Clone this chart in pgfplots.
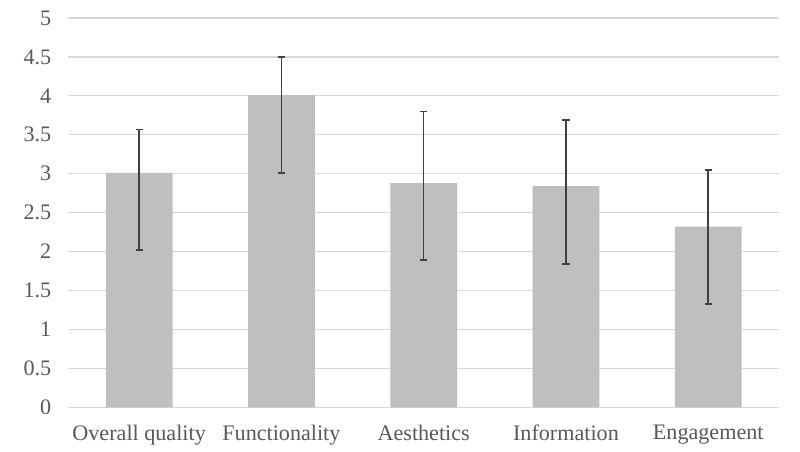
\documentclass[border=0pt]{standalone}
\usepackage{pgfplots}
\pgfplotsset{compat=1.18}
\usepackage{fontspec}
\setmainfont{Liberation Serif}
\definecolor{bargray}{HTML}{BFBFBF}
\definecolor{gridgray}{HTML}{D9D9D9}
\definecolor{txtgray}{HTML}{595959}
\definecolor{errgray}{HTML}{404040}
\begin{document}
\begin{tikzpicture}
\begin{axis}[
  scale only axis,
  width=533.5pt, height=292pt,
  xmin=-0.5, xmax=4.5,
  ymin=0, ymax=5,
  ytick={0,0.5,...,5},
  xtick={0,1,2,3,4},
  xticklabels={Overall quality,Functionality,Aesthetics,Information,Engagement},
  axis line style={draw=none},
  axis x line*=bottom,
  major tick length=0pt,
  ymajorgrids,
  grid style={gridgray, line width=0.9pt},
  tick label style={font=\fontsize{16.6}{19}\selectfont, text=txtgray},
  yticklabel style={xshift=-9pt},
  xticklabel style={yshift=-10pt},
  /pgf/number format/assume math mode=true,
  clip=false,
]
\draw[gridgray, line width=0.9pt] (rel axis cs:0,0) -- (rel axis cs:1,0);
\addplot[ybar, bar width=0.469, fill=bargray, draw=none,
  error bars/.cd, y dir=both, y explicit,
  error bar style={errgray, line width=1.1pt},
  error mark options={errgray, line width=1.1pt, rotate=90, mark size=2.7pt}]
coordinates {
  (0,3.01) += (0,0.56) -= (0,0.99)
  (1,4.01) += (0,0.49) -= (0,1.00)
  (2,2.88) += (0,0.92) -= (0,0.99)
  (3,2.84) += (0,0.85) -= (0,1.00)
  (4,2.32) += (0,0.73) -= (0,0.99)
};
\coordinate (bl) at (rel axis cs:-0.0956,-0.1122);
\coordinate (tr) at (rel axis cs:1.029,1.0462);
\end{axis}
\path (bl) rectangle (tr);
\end{tikzpicture}
\end{document}
